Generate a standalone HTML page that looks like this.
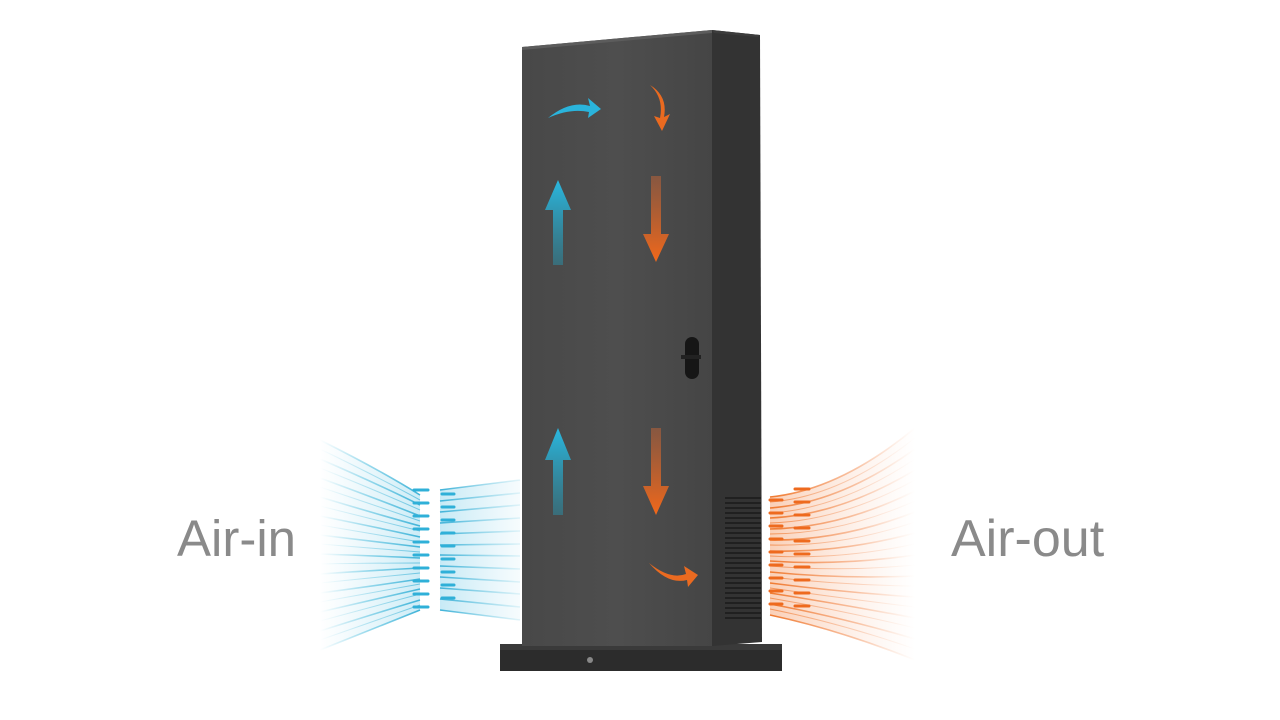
<!DOCTYPE html>
<html><head><meta charset="utf-8"><style>
html,body{margin:0;padding:0;background:#fff;}
svg{display:block}
text{font-family:"Liberation Sans",sans-serif;}
</style></head><body>
<svg width="1280" height="720" viewBox="0 0 1280 720" xmlns="http://www.w3.org/2000/svg">
<defs>
<linearGradient id="front" x1="0" x2="1" y1="0" y2="0">
<stop offset="0" stop-color="#484848"/><stop offset="0.5" stop-color="#4e4e4e"/><stop offset="1" stop-color="#454545"/>
</linearGradient>
<linearGradient id="bfan" x1="0" x2="1">
<stop offset="0" stop-color="#7fd0e6" stop-opacity="0"/><stop offset="0.5" stop-color="#6cc9e4" stop-opacity="0.7"/><stop offset="1" stop-color="#40b3d8"/>
</linearGradient>
<linearGradient id="bfill" x1="0" x2="1">
<stop offset="0" stop-color="#a8def0" stop-opacity="0"/><stop offset="1" stop-color="#8fd5ec" stop-opacity="0.45"/>
</linearGradient>
<linearGradient id="bfan2" x1="0" x2="1">
<stop offset="0" stop-color="#3fb2d8"/><stop offset="1" stop-color="#7fd0e6" stop-opacity="0.2"/>
</linearGradient>
<linearGradient id="bfill2" x1="0" x2="1">
<stop offset="0" stop-color="#8fd5ec" stop-opacity="0.5"/><stop offset="1" stop-color="#a8def0" stop-opacity="0.1"/>
</linearGradient>
<linearGradient id="ofan" x1="0" x2="1">
<stop offset="0" stop-color="#f07a30"/><stop offset="0.6" stop-color="#f5a070" stop-opacity="0.6"/><stop offset="1" stop-color="#f8c0a0" stop-opacity="0"/>
</linearGradient>
<linearGradient id="ofill" x1="0" x2="1">
<stop offset="0" stop-color="#f5a070" stop-opacity="0.5"/><stop offset="1" stop-color="#fad0b8" stop-opacity="0"/>
</linearGradient>
<linearGradient id="bup" x1="0" x2="0" y1="0" y2="1">
<stop offset="0" stop-color="#2ab8e0"/><stop offset="1" stop-color="#2a90a8" stop-opacity="0.5"/>
</linearGradient>
<linearGradient id="odown" x1="0" x2="0" y1="0" y2="1">
<stop offset="0" stop-color="#b0603a" stop-opacity="0.6"/><stop offset="1" stop-color="#f2681a"/>
</linearGradient>
</defs>

<!-- left fan -->
<path d="M320 440 Q380 470 420 495 L420 610 Q380 626 320 650 Z" fill="url(#bfill)"/>
<path d="M440 490 L520 480 L520 620 L440 610 Z" fill="url(#bfill2)"/>
<g fill="none" stroke="url(#bfan)" stroke-width="1.6">
<path d="M320 440 Q380 470 420 495"/><path d="M320 459 Q380 485 420 505"/><path d="M320 478 Q380 500 420 516"/>
<path d="M320 497 Q380 515 420 526"/><path d="M320 516 Q380 528 420 537"/><path d="M320 535 Q380 542 420 547"/>
<path d="M320 554 Q380 556 420 558"/><path d="M320 574 Q380 570 420 568"/><path d="M320 593 Q380 585 420 579"/>
<path d="M320 612 Q380 598 420 589"/><path d="M320 631 Q380 612 420 600"/><path d="M320 650 Q380 626 420 610"/>
</g>
<g fill="none" stroke="url(#bfan)" stroke-width="1" opacity="0.7">
<path d="M320 449 Q380 478 420 500"/><path d="M320 468 Q380 492 420 510"/><path d="M320 487 Q380 507 420 521"/>
<path d="M320 506 Q380 521 420 531"/><path d="M320 525 Q380 535 420 542"/><path d="M320 544 Q380 549 420 552"/>
<path d="M320 564 Q380 563 420 563"/><path d="M320 583 Q380 577 420 573"/><path d="M320 602 Q380 591 420 584"/>
<path d="M320 621 Q380 605 420 594"/><path d="M320 640 Q380 619 420 605"/>
</g>
<g fill="none" stroke="url(#bfan2)" stroke-width="1.6">
<path d="M440 490 L520 480"/><path d="M440 501 L520 493"/><path d="M440 512 L520 505"/><path d="M440 523 L520 518"/>
<path d="M440 534 L520 531"/><path d="M440 545 L520 544"/><path d="M440 555 L520 556"/><path d="M440 566 L520 569"/>
<path d="M440 577 L520 582"/><path d="M440 588 L520 594"/><path d="M440 599 L520 607"/><path d="M440 610 L520 620"/>
</g>
<g stroke="#2fb0d8" stroke-width="3" stroke-linecap="round">
<path d="M414 490h14M414 503h14M414 516h14M414 529h14M414 542h14M414 555h14M414 568h14M414 581h14M414 594h14M414 607h14"/>
<path d="M442 494h12M442 507h12M442 520h12M442 533h12M442 546h12M442 559h12M442 572h12M442 585h12M442 598h12"/>
</g>

<!-- cabinet -->
<rect x="500" y="644" width="282" height="27" fill="#2c2c2c"/>
<rect x="500" y="644" width="282" height="6" fill="#3a3a3a"/>
<circle cx="590" cy="660" r="3" fill="#888"/>
<polygon points="712,30 760,35 762,642 712,646" fill="#333"/>
<polygon points="712,30 760,35 758,37 714,33" fill="#3c3c3c"/>
<polygon points="522,47 712,30 712,646 522,646" fill="url(#front)"/>
<polygon points="522,47 712,30 712,33 522,50" fill="#5c5c5c"/>
<g stroke="#1a1a1a" stroke-width="1.5">
<path d="M725 498h36M725 503h36M725 508h36M725 513h36M725 518h36M725 523h36M725 528h36M725 533h36M725 538h36M725 543h36M725 548h36M725 553h36M725 558h36M725 563h36M725 568h36M725 573h36M725 578h36M725 583h36M725 588h36M725 593h36M725 598h36M725 603h36M725 608h36M725 613h36M725 618h36"/>
</g>
<rect x="685" y="337" width="14" height="42" rx="7" fill="#161616"/>
<rect x="681" y="355" width="20" height="4" fill="#222"/>

<!-- arrows -->
<path d="M553 265 V210 H545 L558 180 L571 210 H563 V265 Z" fill="url(#bup)"/>
<path d="M553 515 V460 H545 L558 428 L571 460 H563 V515 Z" fill="url(#bup)"/>
<path d="M651 176 V234 H643 L656 262 L669 234 H661 V176 Z" fill="url(#odown)"/>
<path d="M651 428 V486 H643 L656 515 L669 486 H661 V428 Z" fill="url(#odown)"/>
<path d="M548 118 Q570 100 590 106 L588 98 L601 109 L588 118 L589 112 Q570 108 548 118 Z" fill="#2ab4dc"/>
<path d="M650 85 Q664 98 660 118 L654 116 L662 131 L670 114 L664 117 Q668 96 650 85 Z" fill="#ea6a20"/>
<path d="M649 563 Q670 580 686 574 L684 566 L698 575 L688 587 L687 580 Q668 585 649 563 Z" fill="#ea6a20"/>

<!-- right fan -->
<path d="M770 497 Q840 490 915 428 L915 660 Q840 630 770 615 Z" fill="url(#ofill)"/>
<g fill="none" stroke="url(#ofan)" stroke-width="1.6">
<path d="M770 497 Q840 490 915 428"/><path d="M770 508 Q840 503 915 449"/><path d="M770 518 Q840 515 915 470"/>
<path d="M770 529 Q840 528 915 491"/><path d="M770 540 Q840 541 915 512"/><path d="M770 551 Q840 553 915 533"/>
<path d="M770 561 Q840 566 915 555"/><path d="M770 572 Q840 579 915 576"/><path d="M770 583 Q840 592 915 597"/>
<path d="M770 593 Q840 604 915 618"/><path d="M770 604 Q840 617 915 639"/><path d="M770 615 Q840 630 915 660"/>
</g>
<g fill="none" stroke="url(#ofan)" stroke-width="1" opacity="0.7">
<path d="M770 502 Q840 497 915 438"/><path d="M770 513 Q840 509 915 459"/><path d="M770 523 Q840 521 915 480"/>
<path d="M770 534 Q840 534 915 501"/><path d="M770 545 Q840 547 915 522"/><path d="M770 556 Q840 560 915 544"/>
<path d="M770 566 Q840 572 915 565"/><path d="M770 577 Q840 585 915 586"/><path d="M770 588 Q840 598 915 607"/>
<path d="M770 598 Q840 610 915 628"/><path d="M770 609 Q840 623 915 649"/>
</g>
<g stroke="#ee6a1e" stroke-width="3" stroke-linecap="round">
<path d="M770 500h12M770 513h12M770 526h12M770 539h12M770 552h12M770 565h12M770 578h12M770 591h12M770 604h12"/>
<path d="M795 489h14M795 502h14M795 515h14M795 528h14M795 541h14M795 554h14M795 567h14M795 580h14M795 593h14M795 606h14"/>
</g>

<text x="177" y="556" font-size="51" fill="#8a8a8a">Air-in</text>
<text x="951" y="556" font-size="52" fill="#8a8a8a">Air-out</text>
</svg>
</body></html>
